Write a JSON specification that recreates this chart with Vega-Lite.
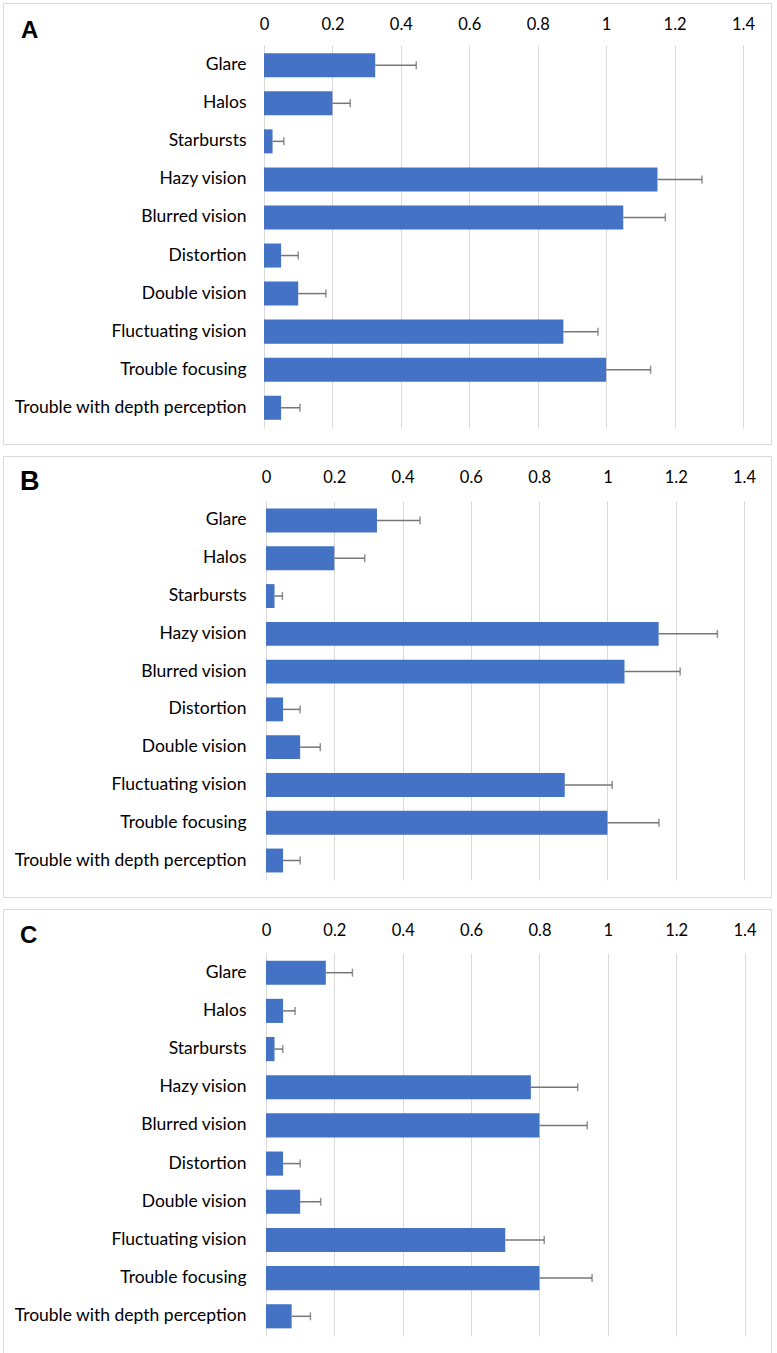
{
  "$schema": "https://vega.github.io/schema/vega-lite/v6.json",
  "padding": {"left": 2, "top": 2, "right": 6, "bottom": 0},
  "background": "white",
  "spacing": 12,
  "bounds": "flush",
  "config": {
    "view": {"stroke": "#d9d9d9", "strokeWidth": 1},
    "font": "Lato",
    "axis": {"labelColor": "#000000", "labelFont": "Lato"}
  },
  "data": {
    "values": [
      {"panel": "A", "symptom": "Glare", "value": 0.325, "upper": 0.445},
      {"panel": "A", "symptom": "Halos", "value": 0.2, "upper": 0.252},
      {"panel": "A", "symptom": "Starbursts", "value": 0.025, "upper": 0.058},
      {"panel": "A", "symptom": "Hazy vision", "value": 1.15, "upper": 1.28},
      {"panel": "A", "symptom": "Blurred vision", "value": 1.05, "upper": 1.173},
      {"panel": "A", "symptom": "Distortion", "value": 0.05, "upper": 0.1},
      {"panel": "A", "symptom": "Double vision", "value": 0.1, "upper": 0.181},
      {"panel": "A", "symptom": "Fluctuating vision", "value": 0.875, "upper": 0.976},
      {"panel": "A", "symptom": "Trouble focusing", "value": 1.0, "upper": 1.13},
      {"panel": "A", "symptom": "Trouble with depth perception", "value": 0.05, "upper": 0.105},
      {"panel": "B", "symptom": "Glare", "value": 0.325, "upper": 0.451},
      {"panel": "B", "symptom": "Halos", "value": 0.2, "upper": 0.289},
      {"panel": "B", "symptom": "Starbursts", "value": 0.025, "upper": 0.048},
      {"panel": "B", "symptom": "Hazy vision", "value": 1.15, "upper": 1.322},
      {"panel": "B", "symptom": "Blurred vision", "value": 1.05, "upper": 1.213},
      {"panel": "B", "symptom": "Distortion", "value": 0.05, "upper": 0.1},
      {"panel": "B", "symptom": "Double vision", "value": 0.1, "upper": 0.159},
      {"panel": "B", "symptom": "Fluctuating vision", "value": 0.875, "upper": 1.014},
      {"panel": "B", "symptom": "Trouble focusing", "value": 1.0, "upper": 1.151},
      {"panel": "B", "symptom": "Trouble with depth perception", "value": 0.05, "upper": 0.1},
      {"panel": "C", "symptom": "Glare", "value": 0.175, "upper": 0.253},
      {"panel": "C", "symptom": "Halos", "value": 0.05, "upper": 0.085},
      {"panel": "C", "symptom": "Starbursts", "value": 0.025, "upper": 0.049},
      {"panel": "C", "symptom": "Hazy vision", "value": 0.775, "upper": 0.912},
      {"panel": "C", "symptom": "Blurred vision", "value": 0.8, "upper": 0.94},
      {"panel": "C", "symptom": "Distortion", "value": 0.05, "upper": 0.1},
      {"panel": "C", "symptom": "Double vision", "value": 0.1, "upper": 0.16},
      {"panel": "C", "symptom": "Fluctuating vision", "value": 0.7, "upper": 0.814},
      {"panel": "C", "symptom": "Trouble focusing", "value": 0.8, "upper": 0.954},
      {"panel": "C", "symptom": "Trouble with depth perception", "value": 0.075, "upper": 0.13}
    ]
  },
  "vconcat": [
    {
      "title": {"text": "A", "anchor": "start", "frame": "group", "orient": "top", "offset": -59, "baseline": "alphabetic", "dx": 18, "font": "Liberation Sans", "fontSize": 24, "fontWeight": "bold", "color": "#000000"},
      "width": 768,
      "height": 441,
      "transform": [{"filter": "datum.panel === 'A'"}],
      "encoding": {
        "y": {"field": "symptom", "type": "nominal", "sort": null,
          "scale": {"range": [42, 425], "paddingInner": 0.368, "paddingOuter": 0.216},
          "axis": {"orient": "left", "title": null, "domain": false, "ticks": false, "offset": -261, "labelPadding": 18, "labelFontSize": 17.5, "labelLimit": 0}}
      },
      "layer": [
        {"mark": {"type": "bar", "color": "#4472C4"},
         "encoding": {"x": {"field": "value", "type": "quantitative",
           "scale": {"domain": [0, 1.4], "range": [261, 740], "nice": false},
           "axis": {"orient": "top", "title": null, "values": [0, 0.2, 0.4, 0.6, 0.8, 1, 1.2, 1.4], "format": "~g", "domain": false, "ticks": false, "grid": true, "gridColor": "#d9d9d9", "gridWidth": 1, "offset": -42, "labelPadding": 13, "labelFontSize": 16.5, "labelFlush": false, "labelOverlap": false}}}},
        {"mark": {"type": "rule", "color": "#767676", "strokeWidth": 1.5},
         "encoding": {"x": {"field": "value", "type": "quantitative"}, "x2": {"field": "upper"}}},
        {"mark": {"type": "tick", "color": "#666666", "thickness": 1.5, "size": 8, "orient": "vertical"},
         "encoding": {"x": {"field": "upper", "type": "quantitative"}}}
      ]
    },
    {
      "title": {"text": "B", "anchor": "start", "frame": "group", "orient": "top", "offset": -60.5, "baseline": "alphabetic", "dx": 17, "font": "Liberation Sans", "fontSize": 27, "fontWeight": "bold", "color": "#000000"},
      "width": 768,
      "height": 441,
      "transform": [{"filter": "datum.panel === 'B'"}],
      "encoding": {
        "y": {"field": "symptom", "type": "nominal", "sort": null,
          "scale": {"range": [45, 424], "paddingInner": 0.368, "paddingOuter": 0.2},
          "axis": {"orient": "left", "title": null, "domain": false, "ticks": false, "offset": -263, "labelPadding": 20, "labelFontSize": 17.5, "labelLimit": 0}}
      },
      "layer": [
        {"mark": {"type": "bar", "color": "#4472C4"},
         "encoding": {"x": {"field": "value", "type": "quantitative",
           "scale": {"domain": [0, 1.4], "range": [263, 741], "nice": false},
           "axis": {"orient": "top", "title": null, "values": [0, 0.2, 0.4, 0.6, 0.8, 1, 1.2, 1.4], "format": "~g", "domain": false, "ticks": false, "grid": true, "gridColor": "#d9d9d9", "gridWidth": 1, "offset": -45, "labelPadding": 15.5, "labelFontSize": 16.5, "labelFlush": false, "labelOverlap": false}}}},
        {"mark": {"type": "rule", "color": "#767676", "strokeWidth": 1.5},
         "encoding": {"x": {"field": "value", "type": "quantitative"}, "x2": {"field": "upper"}}},
        {"mark": {"type": "tick", "color": "#666666", "thickness": 1.5, "size": 8, "orient": "vertical"},
         "encoding": {"x": {"field": "upper", "type": "quantitative"}}}
      ]
    },
    {
      "title": {"text": "C", "anchor": "start", "frame": "group", "orient": "top", "offset": -58, "baseline": "alphabetic", "dx": 17, "font": "Liberation Sans", "fontSize": 24, "fontWeight": "bold", "color": "#000000"},
      "width": 768,
      "height": 444,
      "transform": [{"filter": "datum.panel === 'C'"}],
      "encoding": {
        "y": {"field": "symptom", "type": "nominal", "sort": null,
          "scale": {"range": [44, 427], "paddingInner": 0.368, "paddingOuter": 0.2},
          "axis": {"orient": "left", "title": null, "domain": false, "ticks": false, "offset": -263, "labelPadding": 20, "labelFontSize": 17.5, "labelLimit": 0}}
      },
      "layer": [
        {"mark": {"type": "bar", "color": "#4472C4"},
         "encoding": {"x": {"field": "value", "type": "quantitative",
           "scale": {"domain": [0, 1.4], "range": [263, 741.5], "nice": false},
           "axis": {"orient": "top", "title": null, "values": [0, 0.2, 0.4, 0.6, 0.8, 1, 1.2, 1.4], "format": "~g", "domain": false, "ticks": false, "grid": true, "gridColor": "#d9d9d9", "gridWidth": 1, "offset": -44, "labelPadding": 15, "labelFontSize": 16.5, "labelFlush": false, "labelOverlap": false}}}},
        {"mark": {"type": "rule", "color": "#767676", "strokeWidth": 1.5},
         "encoding": {"x": {"field": "value", "type": "quantitative"}, "x2": {"field": "upper"}}},
        {"mark": {"type": "tick", "color": "#666666", "thickness": 1.5, "size": 8, "orient": "vertical"},
         "encoding": {"x": {"field": "upper", "type": "quantitative"}}}
      ]
    }
  ]
}
